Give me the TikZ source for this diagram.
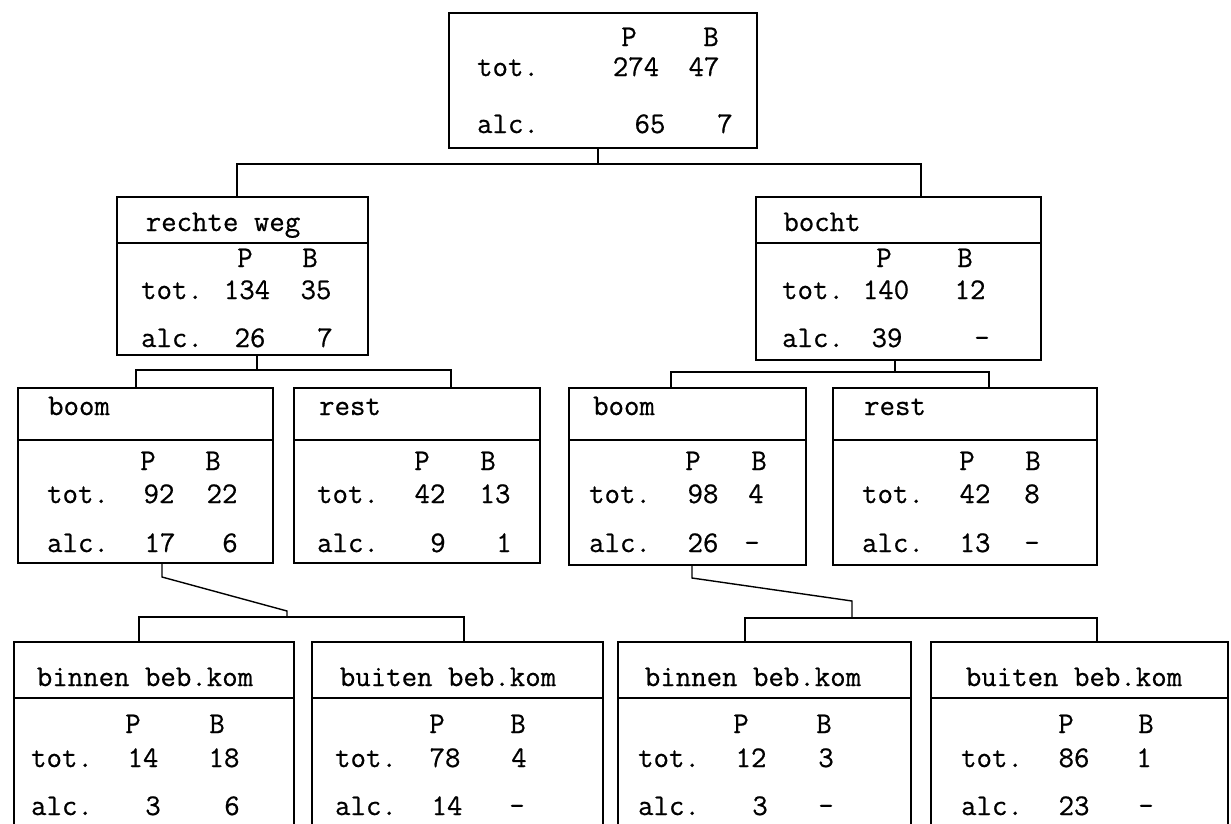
\documentclass[tikz,border=0pt]{standalone}
\usepackage{fontspec}
\newfontfamily\tw[FakeBold=0.6]{Latin Modern Mono}
\tikzset{
  box/.style={draw=black, line width=1.4pt, inner sep=0pt, rectangle},
  txt/.style={font=\tw\fontsize{30}{36}\selectfont, inner sep=0pt, anchor=base, text=black},
  conn/.style={draw=black, line width=1.4pt},
  divl/.style={draw=black, line width=1.4pt},
}
\newcommand{\cell}[4]{\node[txt] (#1) at (#2,#3) {#4};}
\begin{document}
\begin{tikzpicture}[x=1pt,y=-1pt]
\useasboundingbox (0,0) rectangle (1231,823);
\begin{scope}
\clip (0,0) rectangle (1231,823);
% ---------- boxes ----------
\node[box, minimum width=308pt, minimum height=135pt] (T)  at (603,80.5) {};
\node[box, minimum width=251pt, minimum height=158pt] (RW) at (242.5,276) {};
\node[box, minimum width=285pt, minimum height=163pt] (BO) at (898.5,278.5) {};
\node[box, minimum width=255pt, minimum height=175pt] (BL) at (145.5,475.5) {};
\node[box, minimum width=246pt, minimum height=175pt] (RL) at (417,475.5) {};
\node[box, minimum width=237pt, minimum height=177pt] (BR) at (687.5,476.5) {};
\node[box, minimum width=264pt, minimum height=177pt] (RR) at (965,476.5) {};
\node[box, minimum width=280pt, minimum height=198pt] (B1) at (154,741) {};
\node[box, minimum width=291pt, minimum height=198pt] (B2) at (457.5,741) {};
\node[box, minimum width=293pt, minimum height=198pt] (B3) at (764.5,741) {};
\node[box, minimum width=297pt, minimum height=198pt] (B4) at (1079.5,741) {};
% ---------- dividers ----------
\foreach \b/\y in {RW/243,BO/243,BL/440,RL/440,BR/440,RR/440,B1/698,B2/698,B3/698,B4/698}{
  \draw[divl] (\b.west |- 0,\y) -- (\b.east |- 0,\y);
}
% ---------- connectors ----------
\draw[conn] (598,0 |- T.south) -- (598,164) -| (237,0 |- RW.north);
\draw[conn] (598,164) -| (921,0 |- BO.north);
\draw[conn] (257,0 |- RW.south) -- (257,370) -| (136,0 |- BL.north);
\draw[conn] (257,370) -| (451,0 |- RL.north);
\draw[conn] (895,0 |- BO.south) -- (895,372) -| (671,0 |- BR.north);
\draw[conn] (895,372) -| (989,0 |- RR.north);
\draw[conn] (162,0 |- BL.south) -- (162,577) -- (287,611) -- (287,617);
\draw[conn] (139,0 |- B1.north) |- (464,617) -- (464,0 |- B2.north);
\draw[conn] (692,0 |- BR.south) -- (692,578) -- (852,601) -- (852,618);
\draw[conn] (745,0 |- B3.north) |- (1097,618) -- (1097,0 |- B4.north);
% ---------- top box ----------
\cell{T-P}{629}{46}{P}   \cell{T-B}{711}{46}{B}
\cell{T-tot}{508}{76}{tot.} \cell{T-tP}{636}{76}{274} \cell{T-tB}{704}{76}{47}
\cell{T-alc}{508}{133}{alc.} \cell{T-aP}{650}{133}{65} \cell{T-aB}{725}{133}{7}
% ---------- rechte weg ----------
\cell{RW-h}{223}{231}{rechte weg}
\cell{RW-P}{245}{267}{P} \cell{RW-B}{310}{267}{B}
\cell{RW-tot}{172}{299}{tot.} \cell{RW-tP}{247}{299}{134} \cell{RW-tB}{316}{299}{35}
\cell{RW-alc}{172}{347}{alc.} \cell{RW-aP}{250}{347}{26} \cell{RW-aB}{325}{347}{7}
% ---------- bocht ----------
\cell{BO-h}{822}{231}{bocht}
\cell{BO-P}{884}{267}{P} \cell{BO-B}{965}{267}{B}
\cell{BO-tot}{813}{299}{tot.} \cell{BO-tP}{886}{299}{140} \cell{BO-tB}{970}{299}{12}
\cell{BO-alc}{813}{347}{alc.} \cell{BO-aP}{887}{347}{39} \cell{BO-aB}{982}{347}{-}
% ---------- level 3 ----------
\cell{BL-h}{79}{415}{boom}
\cell{BL-P}{148}{470}{P} \cell{BL-B}{213}{470}{B}
\cell{BL-tot}{78}{503}{tot.} \cell{BL-tP}{159}{503}{92} \cell{BL-tB}{222}{503}{22}
\cell{BL-alc}{78}{552}{alc.} \cell{BL-aP}{160}{552}{17} \cell{BL-aB}{230}{552}{6}
\cell{RL-h}{350}{415}{rest}
\cell{RL-P}{422}{470}{P} \cell{RL-B}{488}{470}{B}
\cell{RL-tot}{348}{503}{tot.} \cell{RL-tP}{430}{503}{42} \cell{RL-tB}{495}{503}{13}
\cell{RL-alc}{348}{552}{alc.} \cell{RL-aP}{438}{552}{9} \cell{RL-aB}{504}{552}{1}
\cell{BR-h}{624}{415}{boom}
\cell{BR-P}{693}{470}{P} \cell{BR-B}{759}{470}{B}
\cell{BR-tot}{620}{503}{tot.} \cell{BR-tP}{703}{503}{98} \cell{BR-tB}{756}{503}{4}
\cell{BR-alc}{620}{552}{alc.} \cell{BR-aP}{703}{552}{26} \cell{BR-aB}{752}{552}{-}
\cell{RR-h}{895}{415}{rest}
\cell{RR-P}{967}{470}{P} \cell{RR-B}{1033}{470}{B}
\cell{RR-tot}{893}{503}{tot.} \cell{RR-tP}{975}{503}{42} \cell{RR-tB}{1032}{503}{8}
\cell{RR-alc}{893}{552}{alc.} \cell{RR-aP}{975}{552}{13} \cell{RR-aB}{1032}{552}{-}
% ---------- level 4 ----------
\cell{B1-h}{145}{686}{binnen beb.kom}
\cell{B1-P}{133}{733}{P} \cell{B1-B}{217}{733}{B}
\cell{B1-tot}{62}{767}{tot.} \cell{B1-tP}{143}{767}{14} \cell{B1-tB}{224}{767}{18}
\cell{B1-alc}{62}{815}{alc.} \cell{B1-aP}{153}{815}{3} \cell{B1-aB}{232}{815}{6}
\cell{B2-h}{448}{686}{buiten beb.kom}
\cell{B2-P}{437}{733}{P} \cell{B2-B}{518}{733}{B}
\cell{B2-tot}{366}{767}{tot.} \cell{B2-tP}{445}{767}{78} \cell{B2-tB}{519}{767}{4}
\cell{B2-alc}{366}{815}{alc.} \cell{B2-aP}{447}{815}{14} \cell{B2-aB}{517}{815}{-}
\cell{B3-h}{753}{686}{binnen beb.kom}
\cell{B3-P}{741}{733}{P} \cell{B3-B}{824}{733}{B}
\cell{B3-tot}{669}{767}{tot.} \cell{B3-tP}{751}{767}{12} \cell{B3-tB}{826}{767}{3}
\cell{B3-alc}{669}{815}{alc.} \cell{B3-aP}{760}{815}{3} \cell{B3-aB}{826}{815}{-}
\cell{B4-h}{1074}{686}{buiten beb.kom}
\cell{B4-P}{1066}{733}{P} \cell{B4-B}{1146}{733}{B}
\cell{B4-tot}{992}{767}{tot.} \cell{B4-tP}{1074}{767}{86} \cell{B4-tB}{1144}{767}{1}
\cell{B4-alc}{992}{815}{alc.} \cell{B4-aP}{1074}{815}{23} \cell{B4-aB}{1146}{815}{-}
\end{scope}
\end{tikzpicture}
\end{document}
